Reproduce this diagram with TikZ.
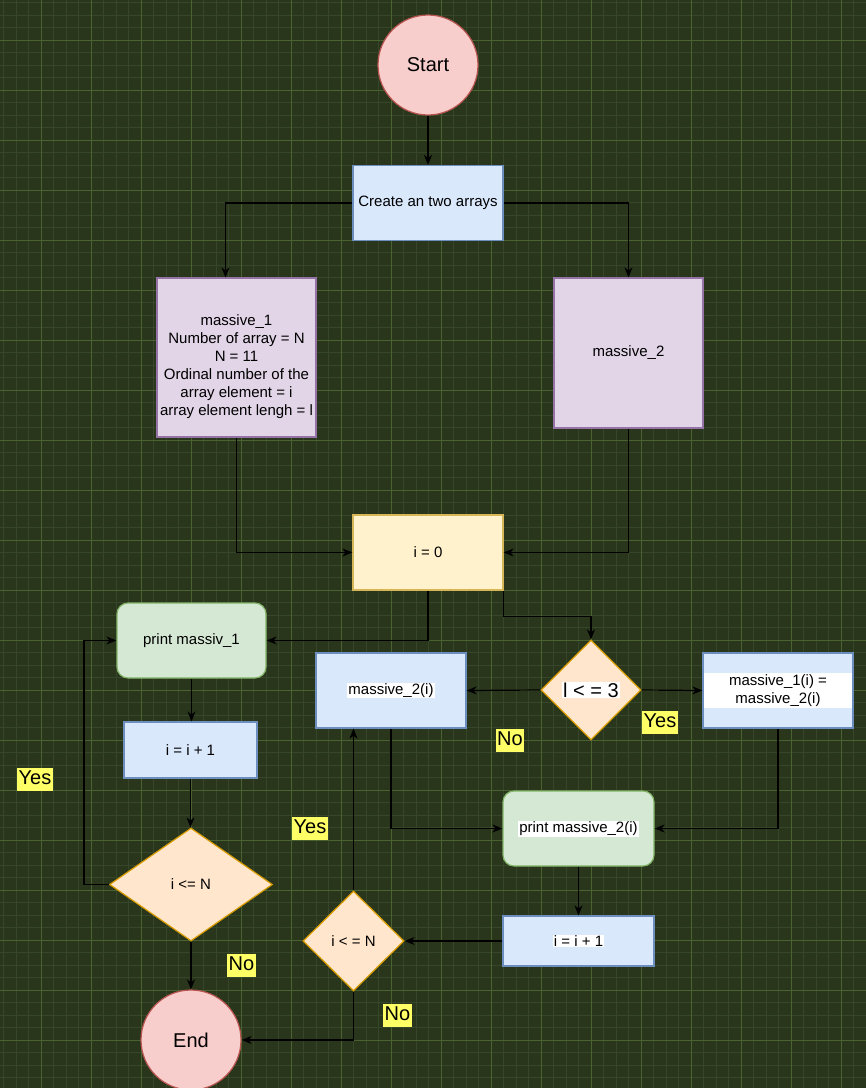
\documentclass[tikz,border=0pt]{standalone}
\usepackage{fontspec}
\setmainfont{Liberation Sans}
\usetikzlibrary{shapes.geometric,arrows.meta,calc}
\definecolor{bgc}{HTML}{2A361C}
\definecolor{gridminor}{HTML}{36462A}
\definecolor{gridmajor}{HTML}{4A6230}
\definecolor{redfill}{HTML}{F8CECC}\definecolor{redline}{HTML}{B85450}
\definecolor{bluefill}{HTML}{DAE8FC}\definecolor{blueline}{HTML}{6C8EBF}
\definecolor{purpfill}{HTML}{E1D5E7}\definecolor{purpline}{HTML}{9673A6}
\definecolor{yelfill}{HTML}{FFF2CC}\definecolor{yelline}{HTML}{D6B656}
\definecolor{orfill}{HTML}{FFE6CC}\definecolor{orline}{HTML}{D79B00}
\definecolor{grfill}{HTML}{D5E8D4}\definecolor{grline}{HTML}{82B366}
\definecolor{lblyellow}{HTML}{FFFF66}
\tikzset{
  base/.style={line width=1.2pt, align=center, inner sep=0pt, font=\fontsize{15}{18}\selectfont, text=black},
  term/.style={base, circle, draw=redline, fill=redfill, minimum size=100pt, font=\fontsize{20}{24}\selectfont},
  bluebox/.style={base, rectangle, draw=blueline, fill=bluefill},
  purpbox/.style={base, rectangle, draw=purpline, fill=purpfill},
  yelbox/.style={base, rectangle, draw=yelline, fill=yelfill},
  greenbox/.style={base, rectangle, rounded corners=11pt, draw=grline, fill=grfill},
  decision/.style={base, diamond, draw=orline, fill=orfill},
  arr/.style={line width=1.2pt, draw=black, -{Stealth[length=10pt,width=8pt,inset=3pt]}},
  answer/.style={fill=lblyellow, inner xsep=1.5pt, inner ysep=1.5pt, text height=15pt, text depth=5pt, font=\fontsize{20}{22}\selectfont, text=black},
  whitebg/.style={fill=white, inner sep=1pt, font=\fontsize{15}{18}\selectfont, text=black}
}
\begin{document}
\begin{tikzpicture}[x=1pt,y=-1pt]
\useasboundingbox (0,0) rectangle (866,1088);
\fill[bgc] (0,0) rectangle (866,1088);
\foreach \x in {0,...,69} {\draw[gridminor, line width=1pt] ({3.5+12.5*\x},0) -- ({3.5+12.5*\x},1088);}
\foreach \y in {0,...,87} {\draw[gridminor, line width=1pt] (0,{2.5+12.5*\y}) -- (866,{2.5+12.5*\y});}
\foreach \x in {0,...,17} {\draw[gridmajor, line width=1pt] ({41+50*\x},0) -- ({41+50*\x},1088);}
\foreach \y in {0,...,21} {\draw[gridmajor, line width=1pt] (0,{40+50*\y}) -- (866,{40+50*\y});}

% nodes
\node[term] (start) at (428,65) {Start};
\node[bluebox, minimum width=150pt, minimum height=75pt] (create) at (428,203) {Create an two arrays};
\node[purpbox, minimum width=159pt, minimum height=159pt] (m1) at (236.5,357.5) {};
\node[base] (m1t) at (236.5,367) {massive\_1\\ Number of array = N\\ N = 11\\ Ordinal number of the\\ array element = i\\ array element lengh = l};
\node[purpbox, minimum width=149pt, minimum height=150pt] (m2) at (628.5,353) {massive\_2};
\node[yelbox, minimum width=150pt, minimum height=75pt] (i0) at (428,552.5) {i = 0};
\node[greenbox, minimum width=149pt, minimum height=75pt] (p1) at (191.5,640.5) {print massiv\_1};
\node[bluebox, minimum width=133pt, minimum height=56pt] (inc1) at (190.5,750) {i = i + 1};
\node[decision, minimum width=163pt, minimum height=113pt] (d1) at (191,884.5) {i <= N};
\node[term] (endn) at (191,1040) {End};
\node[decision, minimum width=100pt, minimum height=100pt] (d3) at (591,690) {};
\node[whitebg, font=\fontsize{20}{22}\selectfont] (d3t) at (591,690) {l < = 3};
\node[bluebox, minimum width=150pt, minimum height=75pt] (m2i) at (391,690.5) {};
\node[whitebg] (m2it) at (391,690.5) {massive\_2(i)};
\node[bluebox, minimum width=150pt, minimum height=75pt] (m1i) at (778,690.5) {};
\node[whitebg, minimum width=148.5pt, minimum height=35pt, align=center] (m1it) at (778,690.5) {massive\_1(i) =\\ massive\_2(i)};
\node[greenbox, minimum width=151pt, minimum height=75pt] (p2) at (578.5,828.5) {};
\node[whitebg] (p2t) at (578.5,828.5) {print massive\_2(i)};
\node[bluebox, minimum width=151pt, minimum height=50pt] (inc2) at (578.5,941) {};
\node[whitebg] (inc2t) at (578.5,941) {i = i + 1};
\node[decision, minimum width=101pt, minimum height=100pt] (d2) at (353.5,941) {i < = N};

% connectors
\draw[arr] (start.south) -- (create.north);
\draw[arr] (create.west) -| ([xshift=-11pt]m1.north);
\draw[arr] (create.east) -| (m2.north);
\draw[arr] (m1.south) |- (i0.west);
\draw[arr] (m2.south) |- (i0.east);
\draw[arr] (i0.south) |- (p1.east);
\coordinate (i0bend) at ([yshift=-26pt]i0.south east);
\draw[arr] (i0.south east) -- (i0bend) -| (d3.north);
\draw[arr] (p1.south) -- (p1.south |- inc1.north);
\draw[arr] (inc1.south) -- (inc1.south |- d1.north);
\coordinate (d1left) at ([xshift=-25pt]d1.west);
\draw[arr] (d1.west) -- (d1left) |- (p1.west);
\draw[arr] (d1.south) -- (endn.north);
\draw[arr] (d3.west) -- (m2i.east);
\draw[arr] (d3.east) -- (m1i.west);
\draw[arr] (m2i.south) |- (p2.west);
\draw[arr] (m1i.south) |- (p2.east);
\draw[arr] (p2.south) -- (inc2.north);
\draw[arr] (inc2.west) -- (d2.east);
\draw[arr] (d2.north) -- (d2.north |- m2i.south);
\draw[arr] (d2.south) |- (endn.east);

% answer labels
\node[answer] (yes1) at (35,779) {Yes};
\node[answer] (yes2) at (310,828.5) {Yes};
\node[answer] (yes3) at (660,722) {Yes};
\node[answer] (no1) at (510,740) {No};
\node[answer] (no2) at (241.5,965.5) {No};
\node[answer] (no3) at (397.5,1015.5) {No};
\end{tikzpicture}
\end{document}
